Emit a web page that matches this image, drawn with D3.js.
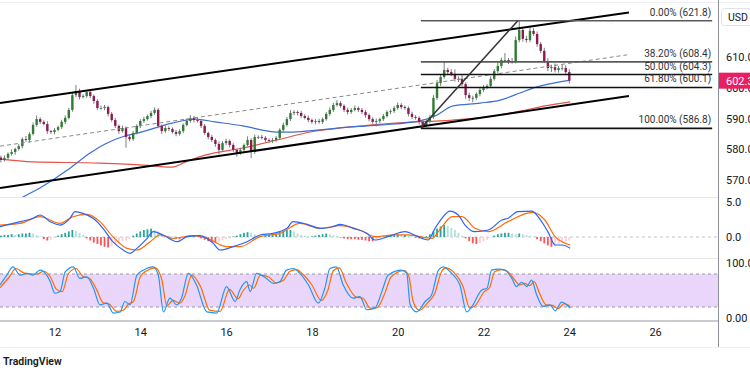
<!DOCTYPE html>
<html>
<head>
<meta charset="utf-8">
<script src="https://cdn.jsdelivr.net/npm/d3@7"></script>
<style>
  body { margin: 0; background: #fff; }
  svg { display: block; font-family: Roboto, "Liberation Sans", sans-serif; }
</style>
</head>
<body>
<script>
// 2-hour candles, first one at day 10.75
const startDay = 10.75
const stepDay = 1 / 12
const firstOpen = 577.3

const closes = [
  576.5, 577.2, 578.5, 579.1, 580.1, 581.0, 583.3, 583.0, 585.0, 587.9,
  589.8, 588.9, 588.2, 585.9, 585.6, 586.3, 587.2, 588.9, 590.2, 592.8,
  597.6, 598.9, 597.0, 597.3, 598.6, 597.3, 595.7, 593.4, 593.4, 593.7,
  591.5, 589.5, 587.6, 585.9, 586.9, 584.0, 583.3, 585.3, 587.6, 589.2,
  589.8, 590.8, 591.8, 592.8, 587.6, 585.9, 586.9, 586.6, 585.6, 585.0,
  585.9, 587.9, 589.2, 590.2, 589.5, 589.2, 587.6, 585.3, 584.0, 583.0,
  581.7, 579.8, 582.0, 582.7, 581.4, 579.8, 578.8, 579.8, 581.4, 583.0,
  579.1, 584.0, 584.0, 583.7, 583.0, 582.7, 583.0, 583.7, 586.3, 587.9,
  589.8, 591.8, 592.1, 591.8, 590.8, 590.2, 589.5, 588.9, 589.2, 588.9,
  589.8, 591.5, 592.8, 594.4, 595.0, 594.1, 592.8, 592.1, 592.8, 593.4,
  592.8, 592.1, 591.1, 589.8, 588.9, 589.2, 589.8, 590.8, 592.1, 592.4,
  593.4, 594.4, 593.7, 593.4, 591.5, 590.5, 590.2, 588.9, 587.9, 589.2,
  590.5, 596.7, 601.5, 603.5, 605.8, 605.1, 604.5, 602.9, 602.9, 601.2,
  597.6, 596.7, 596.7, 598.0, 599.3, 600.2, 600.6, 602.9, 605.4, 607.1,
  609.0, 609.0, 608.4, 608.7, 615.5, 618.8, 615.9, 615.5, 618.5, 617.5,
  614.2, 612.0, 608.7, 606.4, 606.7, 605.8, 606.4, 606.4, 605.1, 602.3
]

const wickUp = [
  0.6, 0.8, 0.5, 0.9, 0.4, 0.7, 0.6, 1.0, 0.5, 0.8,
  1.2, 0.6, 0.5, 0.9, 0.4, 0.6, 0.5, 0.7, 0.8, 0.6,
  0.9, 2.0, 0.8, 0.6, 0.7, 0.9, 0.5, 0.6, 0.8, 0.7,
  0.5, 0.6, 0.7, 0.4, 0.8, 0.5, 0.6, 0.7, 0.5, 0.6,
  0.8, 0.5, 0.7, 0.8, 0.6, 0.5, 0.8, 0.6, 0.5, 0.7,
  0.6, 0.5, 0.8, 0.9, 0.6, 0.7, 0.5, 0.6, 0.4, 0.7,
  0.5, 0.8, 0.6, 0.7, 0.5, 0.6, 0.4, 0.7, 0.5, 1.2,
  0.6, 0.8, 0.5, 0.7, 0.6, 0.5, 0.7, 0.6, 0.5, 0.8,
  0.7, 0.9, 0.6, 0.5, 0.7, 0.6, 0.8, 0.5, 0.6, 0.7,
  0.5, 0.6, 0.8, 0.7, 1.0, 0.6, 0.5, 0.7, 0.6, 0.8,
  0.5, 0.6, 0.7, 0.5, 0.6, 0.8, 0.5, 0.7, 0.6, 0.5,
  0.7, 0.8, 0.6, 0.6, 0.5, 0.7, 0.6, 0.5, 0.8, 0.6,
  0.7, 0.9, 1.0, 0.8, 2.6, 0.7, 0.9, 1.5, 0.8, 1.4,
  0.6, 0.8, 0.7, 0.5, 0.9, 0.7, 0.6, 0.8, 0.7, 1.5,
  0.8, 2.3, 0.7, 1.0, 1.2, 3.0, 0.8, 1.0, 1.3, 0.9,
  0.8, 0.7, 1.0, 0.9, 0.8, 1.2, 0.7, 1.3, 0.9, 1.0
]

const wickDn = [
  0.8, 0.5, 0.7, 0.6, 0.9, 0.5, 0.7, 0.6, 0.8, 0.5,
  0.6, 0.7, 0.5, 0.9, 0.6, 0.8, 0.5, 0.6, 0.7, 0.5,
  0.6, 0.7, 0.8, 0.5, 0.6, 0.7, 0.9, 0.6, 0.5, 0.7,
  0.8, 0.6, 0.7, 0.9, 0.5, 3.5, 0.7, 0.6, 0.5, 0.7,
  0.6, 0.5, 0.7, 0.6, 0.8, 0.9, 0.6, 0.7, 0.5, 0.8,
  0.6, 0.7, 0.5, 0.6, 0.8, 0.5, 0.7, 0.6, 0.8, 0.7,
  0.9, 1.5, 0.6, 0.7, 0.8, 0.7, 1.2, 0.6, 0.7, 0.5,
  2.0, 0.6, 0.7, 0.5, 0.8, 0.6, 0.7, 0.5, 0.6, 0.7,
  0.5, 0.6, 0.7, 0.8, 0.6, 0.5, 0.7, 0.6, 0.8, 0.6,
  0.7, 0.5, 0.6, 0.7, 0.5, 0.6, 0.7, 0.8, 0.6, 0.5,
  0.7, 0.6, 0.8, 0.7, 0.6, 1.5, 0.7, 0.6, 0.5, 0.7,
  0.6, 0.5, 0.7, 0.6, 0.8, 0.7, 0.6, 0.9, 1.1, 0.7,
  0.8, 0.6, 0.7, 0.9, 0.6, 0.8, 0.7, 0.9, 1.0, 0.8,
  1.2, 1.0, 1.4, 0.7, 0.8, 0.6, 0.7, 0.5, 0.6, 0.7,
  0.8, 0.6, 0.7, 0.6, 0.8, 0.7, 0.9, 0.8, 0.7, 0.6,
  0.9, 0.8, 0.7, 1.0, 1.3, 0.8, 0.9, 0.8, 1.1, 0.9
]

// moving averages [day, price]
const maBlue = [[10.73, 559.5], [11.22, 564.1], [11.66, 567.4], [12.31, 573.3], [12.83, 578.8], [13.18, 581.7],
  [13.64, 584.3], [13.95, 585.3], [14.74, 588.5], [15.28, 589.8], [15.74, 588.9], [16.39, 587.6],
  [17.19, 585.6], [17.56, 585.6], [18.19, 586.3], [18.84, 587.2], [19.63, 587.9], [20.52, 589.2],
  [20.87, 590.8], [21.29, 594.1], [21.92, 595.0], [22.39, 596.0], [22.85, 598.3], [23.15, 599.9], [24.02, 602.5]]
const maRed = [[10.73, 576.8], [11.50, 575.9], [13.06, 575.5], [13.99, 574.9], [14.74, 574.2], [15.11, 576.2],
  [15.51, 578.1], [16.39, 580.4], [17.19, 583.0], [17.96, 585.6], [18.84, 587.2], [19.66, 588.2],
  [20.40, 588.9], [20.60, 589.0], [21.29, 589.5], [22.08, 590.5], [22.85, 592.4], [23.43, 594.1], [24.02, 595.4]]

// drawings [day, price]
const upperChannel = [[10.73, 595.0], [25.39, 624.5]]
const lowerChannel = [[10.73, 567.4], [25.39, 597.3]]
const midChannel = [[10.73, 581.0], [25.35, 610.7]]
const fibTrend = [[20.54, 586.8], [22.80, 621.8]]
const fibStartDay = 20.54
const fibEndDay = 27.33
const fibPrices = [621.8, 608.4, 604.3, 600.1, 586.8]
const fibLabels = ['0.00% (621.8)', '38.20% (608.4)', '50.00% (604.3)', '61.80% (600.1)', '100.00% (586.8)']
const lastPrice = 602.3

// MACD [day, value]
const macdLine = [[10.73, 1.47], [11.20, 2.19], [11.50, 2.67], [11.66, 3.14], [11.90, 2.19], [12.13, 1.71],
  [12.36, 2.67], [12.48, 3.62], [12.66, 3.38], [12.90, 2.67], [13.13, 1.24], [13.36, -0.67], [13.60, -1.86],
  [13.76, -2.33], [13.92, -1.62], [14.16, -0.19], [14.30, 0.76], [14.53, 0.29], [14.86, -0.67], [15.09, 0.05],
  [15.39, 0.19], [15.70, -0.9], [15.86, -1.86], [16.16, -1.38], [16.49, -0.67], [16.79, 0.29], [17.09, 0.52],
  [17.42, 1.24], [17.56, 2.19], [17.89, 1.81], [18.19, 1.24], [18.49, 1.47], [18.66, 1.81], [18.96, 1.24],
  [19.28, 0.52], [19.47, -0.43], [19.77, 0.05], [20.17, 0.76], [20.47, 0.05], [20.71, -0.43], [20.87, 1.24],
  [21.03, 2.67], [21.22, 3.71], [21.41, 3.14], [21.57, 1.71], [21.80, 0.76], [22.11, 1.0], [22.43, 2.43],
  [22.57, 2.67], [22.80, 3.62], [23.13, 3.71], [23.27, 2.9], [23.50, 0.76], [23.67, -1.14], [23.83, -1.14], [24.02, -1.62]]
const macdSignal = [[10.73, 1.71], [11.20, 1.95], [11.66, 2.9], [12.13, 1.95], [12.43, 2.9], [12.76, 3.24],
  [13.06, 2.19], [13.36, 0.05], [13.69, -1.62], [13.92, -1.86], [14.23, -0.67], [14.46, 0.29], [14.76, -0.19],
  [15.23, 0.19], [15.56, -0.19], [16.02, -1.38], [16.32, -1.38], [16.79, 0.05], [17.26, 0.52], [17.72, 1.95],
  [18.19, 1.24], [18.66, 1.62], [19.12, 1.0], [19.47, 0.05], [19.94, 0.29], [20.24, 0.29], [20.80, -0.19],
  [21.03, 1.47], [21.27, 2.9], [21.50, 2.9], [21.80, 1.24], [22.11, 0.76], [22.57, 2.19], [23.13, 3.52],
  [23.43, 2.43], [23.67, 0.05], [24.02, -1.14]]
// one bar per candle
const macdHist = [
  0.2, 0.3, 0.3, 0.4, 0.3, 0.4, 0.5, 0.5, 0.6, 0.5,
  0.3, 0.1, -0.3, -0.5, -0.4, -0.2, 0.2, 0.4, 0.6, 0.8,
  1.0, 0.9, 0.6, 0.3, -0.2, -0.5, -0.8, -1.0, -1.2, -1.4,
  -1.5, -1.3, -1.1, -0.9, -0.6, -0.5, -0.3, 0.2, 0.5, 0.8,
  1.0, 1.1, 1.2, 1.0, 0.8, 0.5, 0.3, 0.2, 0.1, -0.2,
  -0.3, -0.2, -0.1, 0.1, 0.2, 0.1, -0.2, -0.4, -0.6, -0.7,
  -0.8, -0.7, -0.5, -0.3, -0.2, 0.1, 0.2, 0.4, 0.6, 0.7,
  0.6, 0.4, 0.3, 0.2, 0.2, 0.3, 0.4, 0.5, 0.7, 0.9,
  1.0, 1.0, 0.8, 0.5, 0.3, 0.2, 0.1, 0.1, 0.2, 0.3,
  0.4, 0.5, 0.4, 0.3, 0.1, -0.1, -0.2, -0.3, -0.3, -0.3,
  -0.4, -0.4, -0.5, -0.6, -0.6, -0.4, -0.2, 0.1, 0.2, 0.3,
  0.4, 0.4, 0.3, 0.3, 0.2, 0.1, -0.1, -0.2, -0.2, 0.1,
  0.4, 0.8, 1.2, 1.5, 1.7, 1.6, 1.3, 1.0, 0.6, 0.2,
  -0.2, -0.6, -0.9, -1.0, -0.9, -0.6, -0.4, -0.1, 0.2, 0.4,
  0.5, 0.6, 0.6, 0.5, 0.4, 0.5, 0.4, 0.3, 0.2, 0.1,
  -0.3, -0.6, -0.9, -1.2, -1.4, -1.3, -1.0, -0.7, -0.6, -0.5
]

// Stochastic [day, value]
const stochK = [[10.73, 60], [10.89, 78], [11.03, 93], [11.20, 78], [11.36, 81], [11.50, 78], [11.66, 87],
  [11.82, 78], [11.90, 66], [12.01, 45], [12.13, 48], [12.25, 84], [12.44, 93], [12.59, 72], [12.75, 75],
  [12.91, 54], [13.06, 24], [13.22, 27], [13.37, 9], [13.53, 11], [13.64, 30], [13.76, 24], [13.92, 78],
  [14.07, 87], [14.30, 93], [14.42, 78], [14.54, 11], [14.69, 36], [14.85, 24], [14.96, 36], [15.12, 81],
  [15.31, 60], [15.55, 11], [15.78, 9], [16.01, 57], [16.21, 30], [16.32, 51], [16.48, 66], [16.56, 48],
  [16.71, 81], [16.94, 72], [17.10, 63], [17.25, 66], [17.41, 87], [17.57, 90], [17.72, 81], [17.92, 60],
  [18.15, 27], [18.30, 54], [18.42, 90], [18.57, 93], [18.73, 60], [18.96, 36], [19.12, 39], [19.28, 15],
  [19.47, 18], [19.63, 48], [19.78, 78], [20.09, 87], [20.21, 81], [20.29, 24], [20.44, 11], [20.64, 30],
  [20.79, 42], [20.95, 87], [21.06, 93], [21.26, 81], [21.45, 60], [21.61, 11], [21.73, 21], [21.96, 51],
  [22.08, 54], [22.19, 87], [22.35, 89], [22.50, 87], [22.66, 72], [22.77, 57], [22.89, 65], [23.01, 57],
  [23.12, 69], [23.24, 42], [23.39, 21], [23.55, 24], [23.67, 13], [23.82, 29], [24.02, 18]]
const stochD = [[10.73, 55], [10.95, 75], [11.10, 90], [11.28, 82], [11.45, 80], [11.60, 80], [11.75, 85],
  [11.90, 75], [12.05, 52], [12.18, 48], [12.32, 80], [12.50, 90], [12.66, 76], [12.82, 72], [12.98, 52],
  [13.13, 28], [13.28, 25], [13.45, 12], [13.60, 14], [13.72, 25], [13.84, 30], [14.00, 75], [14.15, 86],
  [14.35, 91], [14.50, 70], [14.62, 22], [14.76, 32], [14.92, 27], [15.04, 40], [15.20, 78], [15.40, 58],
  [15.62, 14], [15.86, 12], [16.08, 52], [16.28, 35], [16.40, 50], [16.55, 60], [16.64, 54], [16.80, 78],
  [17.00, 74], [17.17, 64], [17.33, 68], [17.49, 85], [17.64, 88], [17.80, 79], [18.00, 60], [18.22, 32],
  [18.37, 50], [18.50, 86], [18.64, 91], [18.80, 64], [19.03, 38], [19.19, 36], [19.36, 18], [19.52, 19],
  [19.70, 45], [19.85, 75], [20.15, 86], [20.26, 76], [20.36, 30], [20.51, 14], [20.70, 28], [20.86, 44],
  [21.02, 84], [21.12, 91], [21.32, 82], [21.52, 58], [21.68, 18], [21.80, 22], [22.02, 48], [22.14, 55],
  [22.26, 84], [22.42, 88], [22.57, 84], [22.72, 70], [22.84, 60], [22.96, 63], [23.08, 59], [23.18, 66],
  [23.31, 44], [23.46, 24], [23.61, 23], [23.74, 17], [23.88, 26], [24.02, 21]]
const stochBand = [20, 80]

// axes
const dayTicks = [12, 14, 16, 18, 20, 22, 24, 26]
const priceTicks = [570, 580, 590, 600, 610]
const macdTicks = [0, 5]
const stochTicks = [0, 100]
const stochTickLabels = ['0.00', '100.0']

const width = 750
const height = 375
const plotRight = 718
const mainPane = { top: 3, bottom: 197 }
const macdPane = { top: 198, bottom: 258 }
const stochPane = { top: 259, bottom: 321 }

const svg = d3.select('body').append('svg')
  .attr('width', width)
  .attr('height', height)

const x = d3.scaleLinear().domain([12, 26]).range([54.5, 655.1])
const y = d3.scaleLinear().domain([570, 610]).range([180, 57])
const yMacd = d3.scaleLinear().domain([0, 5]).range([237, 202])
const yStoch = d3.scaleLinear().domain([0, 100]).range([318, 263])

const defs = svg.append('defs')
const addClip = (id, pane) => defs.append('clipPath').attr('id', id)
  .append('rect').attr('x', 0).attr('y', pane.top).attr('width', plotRight).attr('height', pane.bottom - pane.top)
addClip('clip-main', mainPane)
addClip('clip-macd', macdPane)
addClip('clip-stoch', stochPane)

// frame lines
const frame = svg.append('g')
frame.append('line').attr('x1', 0).attr('x2', width).attr('y1', 2.5).attr('y2', 2.5).attr('stroke', '#eceef2')
frame.append('line').attr('x1', 0).attr('x2', plotRight).attr('y1', 197.5).attr('y2', 197.5).attr('stroke', '#e6e8ee')
frame.append('line').attr('x1', 0).attr('x2', plotRight).attr('y1', 258.5).attr('y2', 258.5).attr('stroke', '#e6e8ee')
frame.append('line').attr('x1', 0).attr('x2', plotRight).attr('y1', 321).attr('y2', 321).attr('stroke', '#c9cbd1').attr('stroke-width', 2)
frame.append('line').attr('x1', 0).attr('x2', width).attr('y1', 347.5).attr('y2', 347.5).attr('stroke', '#eceef2')
frame.append('line').attr('x1', plotRight + 0.5).attr('x2', plotRight + 0.5).attr('y1', 0).attr('y2', 347).attr('stroke', '#8e9099')

const line = d3.line().x(d => x(d[0])).y(d => y(d[1]))
const smooth = d3.line().x(d => x(d[0])).y(d => y(d[1])).curve(d3.curveMonotoneX)

// main pane
const main = svg.append('g').attr('clip-path', 'url(#clip-main)')

main.append('path').datum(maRed).attr('d', smooth).attr('fill', 'none').attr('stroke', '#e5534b').attr('stroke-width', 1.2)
main.append('path').datum(maBlue).attr('d', smooth).attr('fill', 'none').attr('stroke', '#3a6fd6').attr('stroke-width', 1.2)

const candles = closes.map((c, i) => {
  const o = i === 0 ? firstOpen : closes[i - 1]
  return { day: startDay + i * stepDay, o, c, h: Math.max(o, c) + wickUp[i], l: Math.min(o, c) - wickDn[i] }
})

const candleG = main.append('g')
candleG.selectAll('line')
  .data(candles)
  .enter()
  .append('line')
  .attr('x1', d => x(d.day)).attr('x2', d => x(d.day))
  .attr('y1', d => y(d.h)).attr('y2', d => y(d.l))
  .attr('stroke', '#7a7c82')
  .attr('stroke-width', 1)
candleG.selectAll('rect')
  .data(candles)
  .enter()
  .append('rect')
  .attr('x', d => x(d.day) - 1.2)
  .attr('width', 2.4)
  .attr('y', d => y(Math.max(d.o, d.c)))
  .attr('height', d => Math.max(0.8, Math.abs(y(d.o) - y(d.c))))
  .attr('fill', d => d.c >= d.o ? '#2e7d32' : '#8e1a4f')

// drawings
main.append('path').datum(midChannel).attr('d', line).attr('stroke', '#8a8a8a').attr('stroke-dasharray', '4,3').attr('fill', 'none')
main.append('path').datum(upperChannel).attr('d', line).attr('stroke', '#000').attr('stroke-width', 2).attr('fill', 'none')
main.append('path').datum(lowerChannel).attr('d', line).attr('stroke', '#000').attr('stroke-width', 2).attr('fill', 'none')

const fibColors = ['#5a5a5a', '#5a5a5a', '#111', '#111', '#111']
main.append('g').selectAll('line')
  .data(fibPrices)
  .enter()
  .append('line')
  .attr('x1', x(fibStartDay)).attr('x2', x(fibEndDay))
  .attr('y1', d => y(d)).attr('y2', d => y(d))
  .attr('stroke', (d, i) => fibColors[i])
  .attr('stroke-width', 1.6)
main.append('g').selectAll('text')
  .data(fibPrices)
  .enter()
  .append('text')
  .attr('x', x(fibEndDay) - 1)
  .attr('y', d => y(d) - 5)
  .attr('text-anchor', 'end')
  .attr('font-size', 10)
  .attr('fill', '#333')
  .text((d, i) => fibLabels[i])
main.append('path').datum(fibTrend).attr('d', line).attr('stroke', '#333').attr('stroke-width', 1.5).attr('fill', 'none')

// MACD pane
const macd = svg.append('g').attr('clip-path', 'url(#clip-macd)')
macd.append('line').attr('x1', 0).attr('x2', plotRight).attr('y1', yMacd(0)).attr('y2', yMacd(0))
  .attr('stroke', '#c3c5cc').attr('stroke-dasharray', '3,3')
const histColor = (v, i) => {
  const prev = i ? macdHist[i - 1] : 0
  if (v >= 0) return v >= prev ? '#26a69a' : '#b2dfdb'
  return v <= prev ? '#ff5252' : '#ffcdd2'
}
macd.append('g').selectAll('rect')
  .data(macdHist)
  .enter()
  .append('rect')
  .attr('x', (d, i) => x(startDay + i * stepDay) - 0.9)
  .attr('width', 1.8)
  .attr('y', d => Math.min(yMacd(d), yMacd(0)))
  .attr('height', d => Math.abs(yMacd(d) - yMacd(0)))
  .attr('fill', histColor)
const macdPath = d3.line().x(d => x(d[0])).y(d => yMacd(d[1])).curve(d3.curveMonotoneX)
macd.append('path').datum(macdSignal).attr('d', macdPath).attr('fill', 'none').attr('stroke', '#ff6d00').attr('stroke-width', 1.2)
macd.append('path').datum(macdLine).attr('d', macdPath).attr('fill', 'none').attr('stroke', '#2962ff').attr('stroke-width', 1.2)

// Stochastic pane
const stoch = svg.append('g').attr('clip-path', 'url(#clip-stoch)')
stoch.append('rect').attr('x', 0).attr('width', plotRight)
  .attr('y', yStoch(stochBand[1])).attr('height', yStoch(stochBand[0]) - yStoch(stochBand[1]))
  .attr('fill', '#ead6fb')
stoch.append('g').selectAll('line')
  .data(stochBand)
  .enter()
  .append('line')
  .attr('x1', 0).attr('x2', plotRight)
  .attr('y1', d => yStoch(d)).attr('y2', d => yStoch(d))
  .attr('stroke', '#9a9aa2').attr('stroke-dasharray', '3,3')
const stochPath = d3.line().x(d => x(d[0])).y(d => yStoch(d[1])).curve(d3.curveMonotoneX)
stoch.append('path').datum(stochD).attr('d', stochPath).attr('fill', 'none').attr('stroke', '#ff6d00').attr('stroke-width', 1.2)
stoch.append('path').datum(stochK).attr('d', stochPath).attr('fill', 'none').attr('stroke', '#2196f3').attr('stroke-width', 1.2)

// axes
const styleAxis = g => {
  g.select('.domain').remove()
  g.selectAll('text').attr('fill', '#131722').attr('font-size', 11).attr('font-family', 'Roboto, sans-serif')
}
svg.append('g')
  .attr('transform', 'translate(0, 325)')
  .call(d3.axisBottom(x).tickValues(dayTicks).tickSize(0).tickPadding(3))
  .call(styleAxis)

svg.append('g')
  .attr('transform', `translate(${plotRight + 5}, 0)`)
  .call(d3.axisRight(y).tickValues(priceTicks).tickFormat(d3.format('.1f')).tickSize(0).tickPadding(3))
  .call(styleAxis)
svg.append('g')
  .attr('transform', `translate(${plotRight + 5}, 0)`)
  .call(d3.axisRight(yMacd).tickValues(macdTicks).tickFormat(d3.format('.1f')).tickSize(0).tickPadding(3))
  .call(styleAxis)
svg.append('g')
  .attr('transform', `translate(${plotRight + 5}, 0)`)
  .call(d3.axisRight(yStoch).tickValues(stochTicks).tickFormat((d, i) => stochTickLabels[i]).tickSize(0).tickPadding(3))
  .call(styleAxis)

// last price tag
svg.append('rect').attr('x', plotRight + 1).attr('y', y(lastPrice) - 8).attr('width', width - plotRight).attr('height', 16)
  .attr('fill', '#e91e63')
svg.append('text').attr('x', plotRight + 8).attr('y', y(lastPrice) + 4)
  .attr('fill', '#fff').attr('font-size', 11).text(d3.format('.1f')(lastPrice))

// currency box
svg.append('rect').attr('x', 721.5).attr('y', 8.5).attr('width', 34).attr('height', 17).attr('rx', 3)
  .attr('fill', '#fff').attr('stroke', '#e0e3eb')
svg.append('text').attr('x', 728).attr('y', 21).attr('font-size', 10.5).attr('fill', '#131722').text('USD')

svg.append('text').attr('x', 3).attr('y', 365).attr('font-size', 10.5).attr('font-weight', 600)
  .attr('fill', '#131722').text('TradingView')
</script>
</body>
</html>
